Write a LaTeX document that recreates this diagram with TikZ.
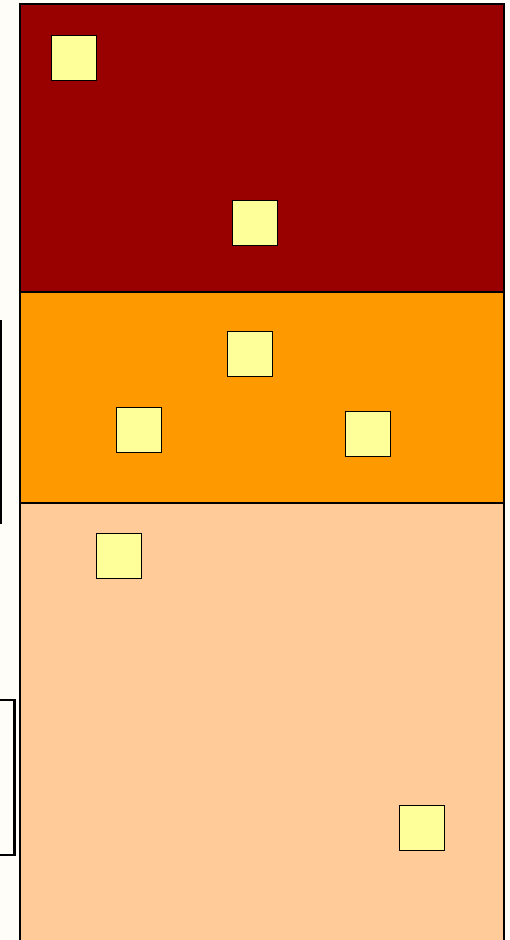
\documentclass[tikz,border=0pt]{standalone}
\begin{document}
\begin{tikzpicture}[x=1pt,y=-1pt,
  band/.style={draw=black,line width=1.4pt},
  sq/.style={draw=black,fill=yelo,line width=1.4pt,minimum width=45pt,minimum height=45pt,inner sep=0pt,anchor=north west},
  side/.style={draw=black,line width=2.6pt}]
\definecolor{bg}{HTML}{FFFDF8}
\definecolor{darkred}{HTML}{990000}
\definecolor{orng}{HTML}{FF9900}
\definecolor{peach}{HTML}{FFCC99}
\definecolor{yelo}{HTML}{FFFF99}
\fill[bg] (0,0) rectangle (510,940);
\useasboundingbox (0,0) rectangle (510,940);
% side partial frames
\draw[side] (-10,321) -- (0.5,321) -- (0.5,523) -- (-10,523);
\draw[side] (-10,700) -- (14.5,700) -- (14.5,855) -- (-10,855);
% bands
\draw[band,fill=darkred] (20,4) rectangle (504,292);
\draw[band,fill=orng] (20,292) rectangle (504,503);
\draw[band,fill=peach] (20,503) rectangle (504,945);
% squares
\node[sq] (s1) at (51,35) {};
\node[sq] (s2) at (232,200) {};
\node[sq] (s3) at (227,331) {};
\node[sq] (s4) at (116,407) {};
\node[sq] (s5) at (345,411) {};
\node[sq] (s6) at (96,533) {};
\node[sq] (s7) at (399,805) {};
\end{tikzpicture}
\end{document}
